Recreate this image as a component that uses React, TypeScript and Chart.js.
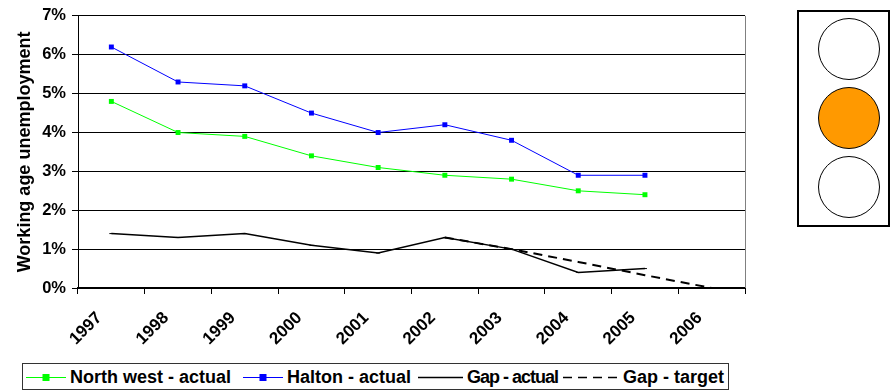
import React, { useEffect, useRef } from "react";
import { Chart, registerables } from "chart.js";
Chart.register(...registerables);

const years = ["1997", "1998", "1999", "2000", "2001", "2002", "2003", "2004", "2005", "2006"];
const northWest = [4.8, 4.0, 3.9, 3.4, 3.1, 2.9, 2.8, 2.5, 2.4, null];
const halton = [6.2, 5.3, 5.2, 4.5, 4.0, 4.2, 3.8, 2.9, 2.9, null];
const gapActual = [1.4, 1.3, 1.4, 1.1, 0.9, 1.3, 1.0, 0.4, 0.5, null];
const gapTarget = [null, null, null, null, null, 1.3, 1.0, 0.67, 0.33, 0];
const yMin = 0;
const yMax = 7;
const yStep = 1;
const yTitle = "Working age unemployment";
const legendLabels = ["North west - actual", "Halton - actual", "Gap - actual", "Gap - target"];

const FONT = "Arial, 'Liberation Sans', sans-serif";
const CW = 760;
const CH = 360;

export default function App() {
  const ref = useRef<HTMLCanvasElement | null>(null);
  useEffect(() => {
    if (!ref.current) return;
    const rightBorder = {
      id: "rightBorder",
      afterDraw(chart: any) {
        const { ctx, chartArea } = chart;
        ctx.save();
        ctx.strokeStyle = "#808080";
        ctx.lineWidth = 1;
        ctx.beginPath();
        ctx.moveTo(Math.round(chartArea.right) + 0.5, chartArea.top);
        ctx.lineTo(Math.round(chartArea.right) + 0.5, chartArea.bottom);
        ctx.stroke();
        ctx.restore();
      },
    };
    const chart = new Chart(ref.current, {
      type: "line",
      data: {
        labels: years,
        datasets: [
          {
            label: legendLabels[0],
            data: northWest,
            borderColor: "#00ff00",
            backgroundColor: "#00ff00",
            borderWidth: 1,
            pointStyle: "rect",
            pointRadius: 3.5,
            pointBorderWidth: 0,
          },
          {
            label: legendLabels[1],
            data: halton,
            borderColor: "#0000ff",
            backgroundColor: "#0000ff",
            borderWidth: 1,
            pointStyle: "rect",
            pointRadius: 3.5,
            pointBorderWidth: 0,
          },
          {
            label: legendLabels[2],
            data: gapActual,
            borderColor: "#000000",
            backgroundColor: "#000000",
            borderWidth: 1.5,
            pointStyle: "line",
            pointRadius: 2,
            pointBorderWidth: 1,
          },
          {
            label: legendLabels[3],
            data: gapTarget,
            borderColor: "#000000",
            backgroundColor: "#000000",
            borderWidth: 2,
            borderDash: [9, 6],
            pointRadius: 0,
          },
        ],
      },
      options: {
        animation: false,
        responsive: false,
        devicePixelRatio: 1,
        layout: { padding: { left: 0, top: 14, right: CW - 745, bottom: 0 } },
        plugins: { legend: { display: false }, tooltip: { enabled: false } },
        scales: {
          x: {
            type: "category",
            offset: true,
            grid: {
              offset: true,
              drawOnChartArea: false,
              drawTicks: true,
              tickLength: 6,
              color: "#000",
            },
            border: { color: "#000", width: 2 },
            ticks: {
              maxRotation: 45,
              minRotation: 45,
              padding: 14,
              labelOffset: -12,
              color: "#000",
              font: { family: FONT, size: 17, weight: "bold" },
            },
            afterFit(scale: any) {
              scale.height = CH - 288;
            },
          },
          y: {
            min: yMin,
            max: yMax,
            ticks: {
              stepSize: yStep,
              padding: 6,
              color: "#000",
              font: { family: FONT, size: 16.5, weight: "bold" },
              callback: (v: any) => v + "%",
            },
            grid: { color: "#000", lineWidth: 1, tickLength: 6, drawTicks: true },
            border: { color: "#000", width: 1 },
            title: {
              display: true,
              text: yTitle,
              color: "#000",
              font: { family: FONT, size: 18, weight: "bold" },
              padding: { top: 14, bottom: 0 },
            },
            afterFit(scale: any) {
              scale.width = 78;
            },
          },
        },
      },
      plugins: [rightBorder],
    });
    return () => chart.destroy();
  }, []);

  const textStyle: React.CSSProperties = {
    position: "absolute",
    top: 0,
    height: 27,
    lineHeight: "27px",
    fontFamily: FONT,
    fontWeight: "bold",
    fontSize: 18,
    color: "#000",
    whiteSpace: "nowrap",
  };
  const sym = (left: number, width: number, kind: string) => (
    <svg style={{ position: "absolute", left, top: 0 }} width={width} height={27}>
      {kind === "dash" ? (
        <line x1={0} y1={13.5} x2={width} y2={13.5} stroke="#000" strokeWidth={1.5} strokeDasharray="9,6" />
      ) : (
        <line x1={0} y1={13.5} x2={width} y2={13.5} stroke={kind} strokeWidth={kind === "#000" ? 1.5 : 1} />
      )}
      {kind === "#00ff00" || kind === "#0000ff" ? (
        <rect x={width / 2 - 3.5} y={10} width={7} height={7} fill={kind} />
      ) : null}
    </svg>
  );

  return (
    <div style={{ position: "fixed", left: 0, top: 0, width: 892, height: 391, background: "#fff", overflow: "hidden" }}>
      <canvas ref={ref} width={CW} height={CH} style={{ position: "absolute", left: 0, top: 0, width: CW, height: CH }} />
      <div
        style={{
          position: "absolute",
          left: 22,
          top: 363,
          width: 707,
          height: 27,
          border: "1px solid #333",
          boxSizing: "border-box",
          background: "#fff",
        }}
      >
        {sym(3, 40, "#00ff00")}
        <span style={{ ...textStyle, left: 47 }}>{legendLabels[0]}</span>
        {sym(220, 40, "#0000ff")}
        <span style={{ ...textStyle, left: 264 }}>{legendLabels[1]}</span>
        {sym(395, 45, "#000")}
        <span style={{ ...textStyle, left: 444, letterSpacing: -1 }}>{legendLabels[2]}</span>
        {sym(540, 56, "dash")}
        <span style={{ ...textStyle, left: 600 }}>{legendLabels[3]}</span>
      </div>
      <div
        style={{
          position: "absolute",
          left: 797,
          top: 10,
          width: 93,
          height: 217,
          border: "2px solid #000",
          boxSizing: "border-box",
        }}
      />
      {["#ffffff", "#ff9900", "#ffffff"].map((c, i) => (
        <div
          key={i}
          style={{
            position: "absolute",
            left: 849 - 31,
            top: [49, 118, 187][i] - 31,
            width: 62,
            height: 62,
            borderRadius: "50%",
            border: "1px solid #000",
            boxSizing: "border-box",
            background: c,
          }}
        />
      ))}
    </div>
  );
}
